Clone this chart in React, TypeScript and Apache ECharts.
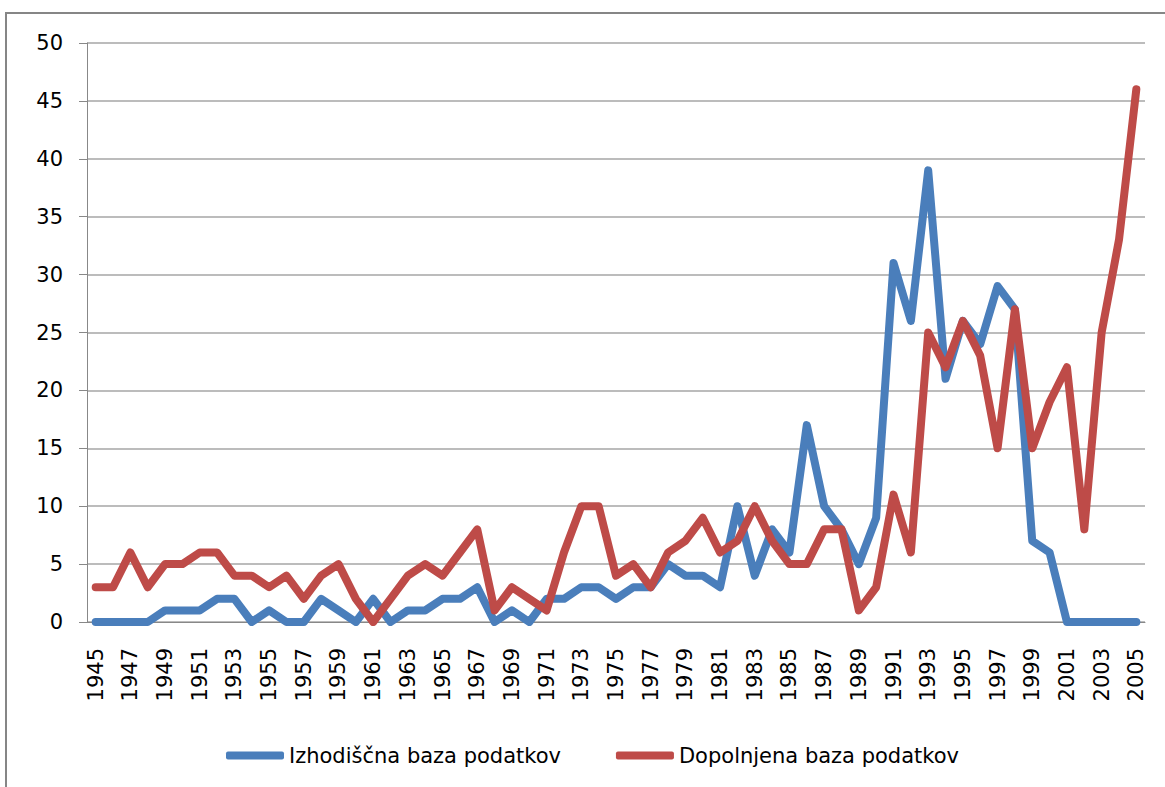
import React, { useEffect, useRef } from "react";
import * as echarts from "echarts";

const years: string[] = [];
for (let y = 1945; y <= 2005; y++) years.push(String(y));

const izhodiscna = [
  0, 0, 0, 0, 1, 1, 1, 2, 2, 0,
  1, 0, 0, 2, 1, 0, 2, 0, 1, 1,
  2, 2, 3, 0, 1, 0, 2, 2, 3, 3,
  2, 3, 3, 5, 4, 4, 3, 10, 4, 8,
  6, 17, 10, 8, 5, 9, 31, 26, 39, 21,
  26, 24, 29, 27, 7, 6, 0, 0, 0, 0,
  0,
];

const dopolnjena = [
  3, 3, 6, 3, 5, 5, 6, 6, 4, 4,
  3, 4, 2, 4, 5, 2, 0, 2, 4, 5,
  4, 6, 8, 1, 3, 2, 1, 6, 10, 10,
  4, 5, 3, 6, 7, 9, 6, 7, 10, 7,
  5, 5, 8, 8, 1, 3, 11, 6, 25, 22,
  26, 23, 15, 27, 15, 19, 22, 8, 25, 33,
  46,
];

const seriesNames = ["Izhodiščna baza podatkov", "Dopolnjena baza podatkov"];
const colors = ["#4A7EBB", "#BE4B48"];

export default function App() {
  const ref = useRef<HTMLDivElement>(null);
  useEffect(() => {
    if (!ref.current) return;
    const chart = echarts.init(ref.current, null, { renderer: "svg" });
    const font = "DejaVu Sans";
    chart.setOption({
      animation: false,
      backgroundColor: "#ffffff",
      graphic: [
        {
          type: "rect",
          shape: { x: 6, y: 13, width: 1300, height: 900 },
          style: { fill: "none", stroke: "#868686", lineWidth: 2 },
          silent: true,
        },
      ],
      grid: { left: 87, top: 43, right: 20, bottom: 165 },
      legend: {
        left: 226,
        top: 745,
        padding: 0,
        itemWidth: 58,
        itemHeight: 8,
        itemGap: 55,
        icon: "roundRect",
        data: seriesNames,
        textStyle: { fontFamily: font, fontSize: 21, color: "#000" },
      },
      xAxis: {
        type: "category",
        data: years,
        boundaryGap: true,
        axisLine: { lineStyle: { color: "#888888", width: 1 } },
        axisTick: { interval: 0, length: 7, lineStyle: { color: "#888888" } },
        axisLabel: {
          interval: 1,
          rotate: 90,
          margin: 26,
          fontFamily: font,
          fontSize: 21,
          color: "#000",
        },
      },
      yAxis: {
        type: "value",
        min: 0,
        max: 50,
        interval: 5,
        axisLine: { show: true, lineStyle: { color: "#888888", width: 1 } },
        axisTick: { show: true, length: 8, lineStyle: { color: "#888888" } },
        splitLine: { lineStyle: { color: "#a6a6a6", width: 1.5 } },
        axisLabel: { margin: 24, fontFamily: font, fontSize: 21, color: "#000" },
      },
      series: [
        {
          name: seriesNames[0],
          type: "line",
          data: izhodiscna,
          showSymbol: false,
          color: colors[0],
          lineStyle: { width: 8, color: colors[0], cap: "round", join: "round" },
        },
        {
          name: seriesNames[1],
          type: "line",
          data: dopolnjena,
          showSymbol: false,
          color: colors[1],
          lineStyle: { width: 8, color: colors[1], cap: "round", join: "round" },
        },
      ],
    });
    return () => chart.dispose();
  }, []);
  return (
    <div
      ref={ref}
      style={{ position: "fixed", left: 0, top: 0, width: 1165, height: 787 }}
    />
  );
}
